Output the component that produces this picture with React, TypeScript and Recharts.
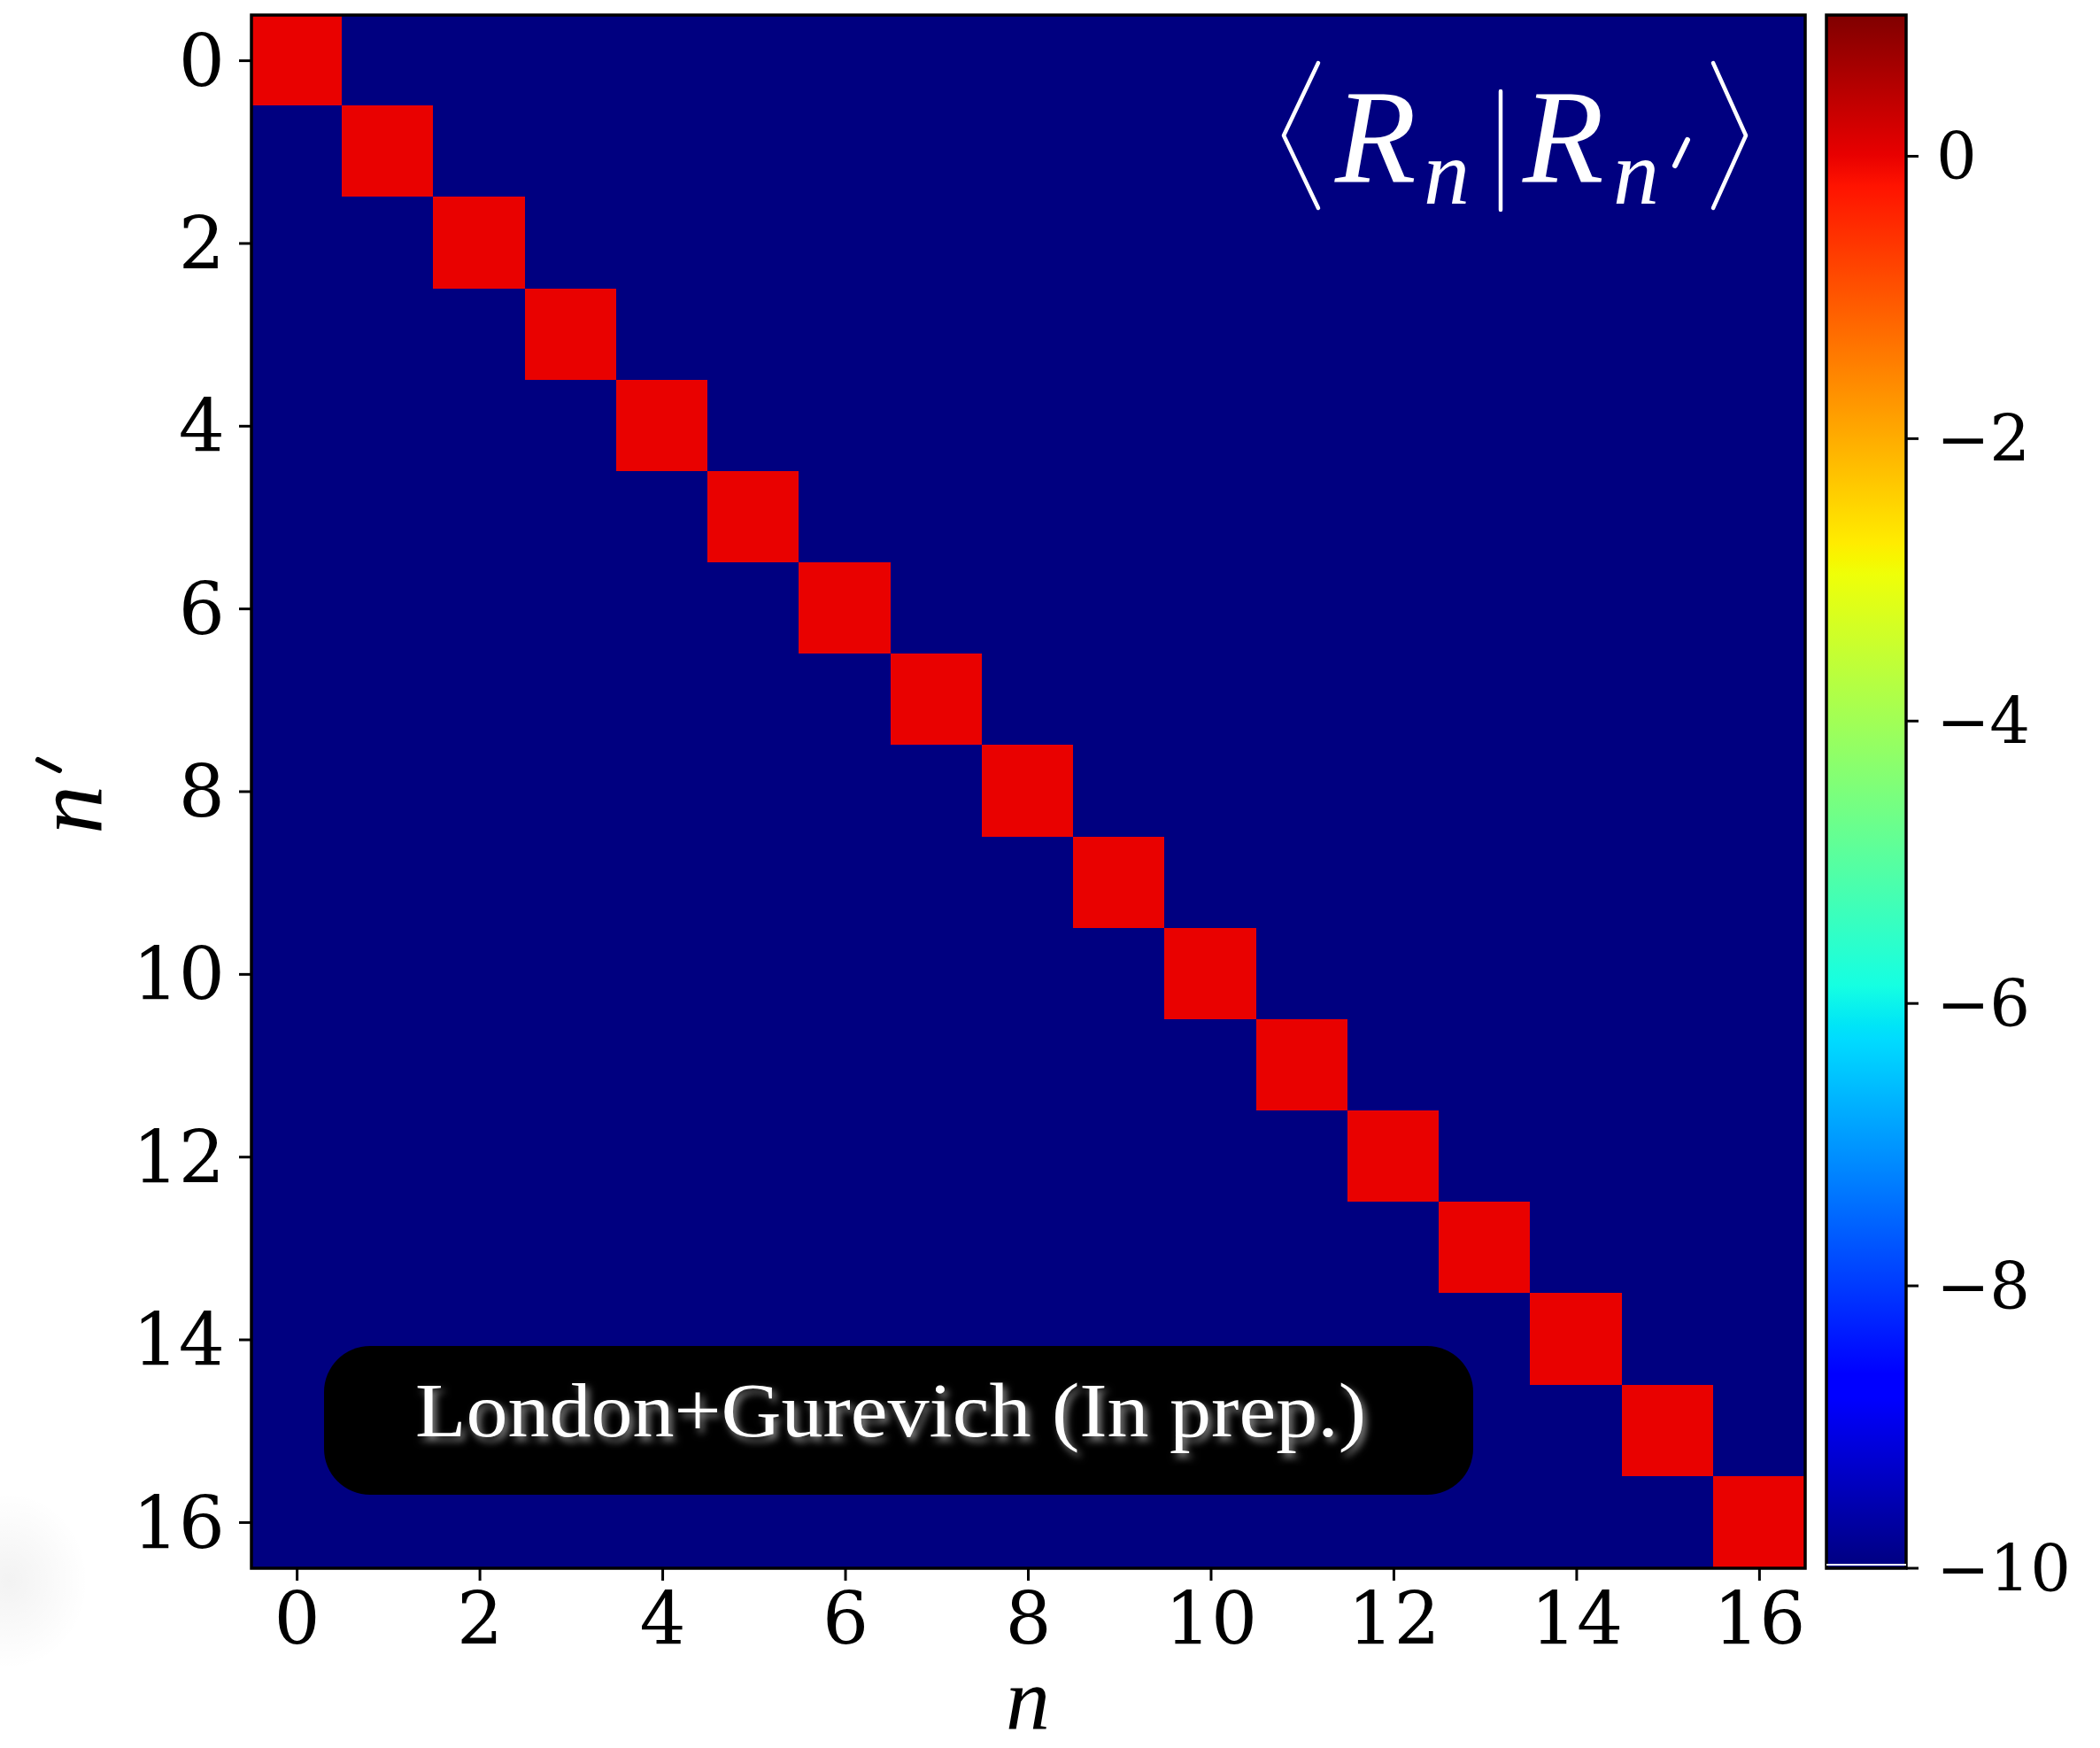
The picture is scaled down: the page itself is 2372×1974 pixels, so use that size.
import React from 'react';
import { ScatterChart, Scatter, XAxis, YAxis, ReferenceArea, ReferenceLine } from 'recharts';

// quantum numbers on both axes
const nValues = [0, 1, 2, 3, 4, 5, 6, 7, 8, 9, 10, 11, 12, 13, 14, 15, 16];
const nPrimeValues = [0, 1, 2, 3, 4, 5, 6, 7, 8, 9, 10, 11, 12, 13, 14, 15, 16];
// log10 |<R_n|R_n'>| on the diagonal, and the clipped floor off the diagonal
const diagonalLog = [0, 0, 0, 0, 0, 0, 0, 0, 0, 0, 0, 0, 0, 0, 0, 0, 0];
const offDiagonalLog = -10;
const axisTicks = [0, 2, 4, 6, 8, 10, 12, 14, 16];
const colorbarTicks = [-10, -8, -6, -4, -2, 0];
const colorRange = [-10, 1];

// matplotlib "jet" segment data
const jetRed = [[0, 0], [0.35, 0], [0.66, 1], [0.89, 1], [1, 0.5]];
const jetGreen = [[0, 0], [0.125, 0], [0.375, 1], [0.64, 1], [0.91, 0], [1, 0]];
const jetBlue = [[0, 0.5], [0.11, 1], [0.34, 1], [0.65, 0], [1, 0]];
const jetBreaks = [0, 0.11, 0.125, 0.34, 0.35, 0.375, 0.64, 0.65, 0.66, 0.89, 0.91, 1];

const seg = (pts: number[][], t: number) => {
  for (let i = 1; i < pts.length; i++) {
    if (t <= pts[i][0]) {
      const [t0, v0] = pts[i - 1];
      const [t1, v1] = pts[i];
      return v0 + ((t - t0) / (t1 - t0)) * (v1 - v0);
    }
  }
  return pts[pts.length - 1][1];
};

const jet = (t: number) => {
  const c = (v: number) => Math.round(Math.max(0, Math.min(1, v)) * 255);
  return `rgb(${c(seg(jetRed, t))},${c(seg(jetGreen, t))},${c(seg(jetBlue, t))})`;
};

const colorFor = (v: number) => jet((v - colorRange[0]) / (colorRange[1] - colorRange[0]));

const cells = nPrimeValues.flatMap((m) =>
  nValues.map((n) => ({ n, m, value: n === m ? diagonalLog[n] : offDiagonalLog }))
);

const tickFont = { fontSize: 82, fontFamily: 'DejaVu Serif', fill: '#000' };
const cbarFont = { fontSize: 72, fontFamily: 'DejaVu Serif', fill: '#000' };
const fmtMinus = (v: number) => (v < 0 ? `\u2212${Math.abs(v)}` : `${v}`);

const MathItalic = "'Liberation Serif', 'DejaVu Serif', serif";

const Overlay = () => (
  <svg width={2372} height={1974} style={{ position: 'absolute', left: 0, top: 0, pointerEvents: 'none' }}>
    <defs>
      <filter id="glow" x="-10%" y="-40%" width="120%" height="180%">
        <feGaussianBlur in="SourceAlpha" stdDeviation="4" result="b" />
        <feOffset in="b" dx="4" dy="5" result="o" />
        <feFlood floodColor="#fff" floodOpacity="0.55" />
        <feComposite in2="o" operator="in" result="s" />
        <feMerge>
          <feMergeNode in="s" />
          <feMergeNode in="SourceGraphic" />
        </feMerge>
      </filter>
      <radialGradient id="smudge" cx="0.5" cy="0.5" r="0.5">
        <stop offset="0" stopColor="#000" stopOpacity="0.05" />
        <stop offset="1" stopColor="#000" stopOpacity="0" />
      </radialGradient>
    </defs>
    <ellipse cx={10} cy={1785} rx={90} ry={100} fill="url(#smudge)" />

    {/* bra-ket annotation */}
    <g stroke="#fff" strokeWidth={4.5} fill="none" strokeLinecap="round" strokeLinejoin="round">
      <polyline points="1489,71 1450,153 1489,235" />
      <polyline points="1935,71 1972,153 1935,235" />
      <line x1={1695} y1={103} x2={1695} y2={237} />
      <line x1={1906} y1={158} x2={1892} y2={187} strokeWidth={6} />
    </g>
    <g fill="#fff" fontFamily={MathItalic} fontStyle="italic">
      <text x={1508} y={205} fontSize={150}>R</text>
      <text x={1608} y={230} fontSize={104}>n</text>
      <text x={1720} y={205} fontSize={150}>R</text>
      <text x={1822} y={230} fontSize={104}>n</text>
    </g>

    {/* axis labels */}
    <text x={1161} y={1952} textAnchor="middle" fontSize={100} fontFamily={MathItalic} fontStyle="italic">n</text>
    <text transform="translate(115,942) rotate(-90)" fontSize={110} fontFamily={MathItalic} fontStyle="italic">n</text>
    <line x1={43} y1={858} x2={67} y2={870} stroke="#000" strokeWidth={6} strokeLinecap="round" />

    {/* credit box */}
    <rect x={366} y={1520} width={1298} height={168} rx={52} ry={52} fill="#000" />
    <text
      x={469}
      y={1622}
      textLength={1074}
      lengthAdjust="spacingAndGlyphs"
      fontSize={86}
      fontFamily="'Liberation Serif', serif"
      fill="#fff"
      filter="url(#glow)"
    >
      London+Gurevich (In prep.)
    </text>
  </svg>
);

export default function App() {
  return (
    <div style={{ position: 'absolute', left: 0, top: 0, width: 2372, height: 1974, background: '#fff' }}>
      <div style={{ position: 'absolute', left: 0, top: 0 }}>
        <ScatterChart width={2372} height={1974} margin={{ top: 17, right: 333, bottom: 53, left: 84 }}>
          <XAxis
            type="number"
            dataKey="n"
            domain={[-0.5, 16.5]}
            ticks={axisTicks}
            allowDataOverflow
            height={150}
            axisLine={false}
            tickSize={14}
            tickMargin={14}
            tickLine={{ stroke: '#000', strokeWidth: 3 }}
            tick={tickFont}
          />
          <YAxis
            type="number"
            dataKey="m"
            domain={[-0.5, 16.5]}
            ticks={axisTicks}
            reversed
            allowDataOverflow
            width={200}
            axisLine={false}
            tickSize={14}
            tickMargin={16}
            tickLine={{ stroke: '#000', strokeWidth: 3 }}
            tick={tickFont}
          />
          {cells.map((c) => (
            <ReferenceArea
              key={`${c.n}-${c.m}`}
              x1={c.n - 0.5}
              x2={c.n + 0.5}
              y1={c.m - 0.5}
              y2={c.m + 0.5}
              fill={colorFor(c.value)}
              fillOpacity={1}
              stroke={colorFor(c.value)}
              strokeWidth={2}
              shapeRendering="crispEdges"
              ifOverflow="visible"
            />
          ))}
          <Scatter data={cells} shape={() => <g />} isAnimationActive={false} />
          <ReferenceArea
            x1={-0.5}
            x2={16.5}
            y1={-0.5}
            y2={16.5}
            fill="none"
            stroke="#000"
            strokeWidth={3.5}
            ifOverflow="visible"
          />
        </ScatterChart>
      </div>

      <div style={{ position: 'absolute', left: 2000, top: 0 }}>
        <ScatterChart width={372} height={1974} margin={{ top: 17, right: 69, bottom: 203, left: 63 }}>
          <defs>
            <linearGradient id="jetGrad" x1="0" y1="1" x2="0" y2="0">
              {jetBreaks.map((t) => (
                <stop key={t} offset={t} stopColor={jet(t)} />
              ))}
            </linearGradient>
          </defs>
          <XAxis type="number" dataKey="x" domain={[0, 1]} hide />
          <YAxis
            type="number"
            dataKey="y"
            orientation="right"
            domain={colorRange}
            ticks={colorbarTicks}
            allowDataOverflow
            width={150}
            axisLine={false}
            tickSize={14}
            tickMargin={20}
            tickLine={{ stroke: '#000', strokeWidth: 3 }}
            tick={cbarFont}
            tickFormatter={fmtMinus}
          />
          <ReferenceArea x1={0} x2={1} y1={colorRange[0]} y2={colorRange[1]} fill="url(#jetGrad)" fillOpacity={1} ifOverflow="visible" />
          <ReferenceLine y={-9.975} stroke="#fff" strokeWidth={2} ifOverflow="visible" />
          <Scatter data={[{ x: 0.5, y: 0 }]} shape={() => <g />} isAnimationActive={false} />
          <ReferenceArea
            x1={0}
            x2={1}
            y1={colorRange[0]}
            y2={colorRange[1]}
            fill="none"
            stroke="#000"
            strokeWidth={3.5}
            ifOverflow="visible"
          />
        </ScatterChart>
      </div>

      <Overlay />
    </div>
  );
}
